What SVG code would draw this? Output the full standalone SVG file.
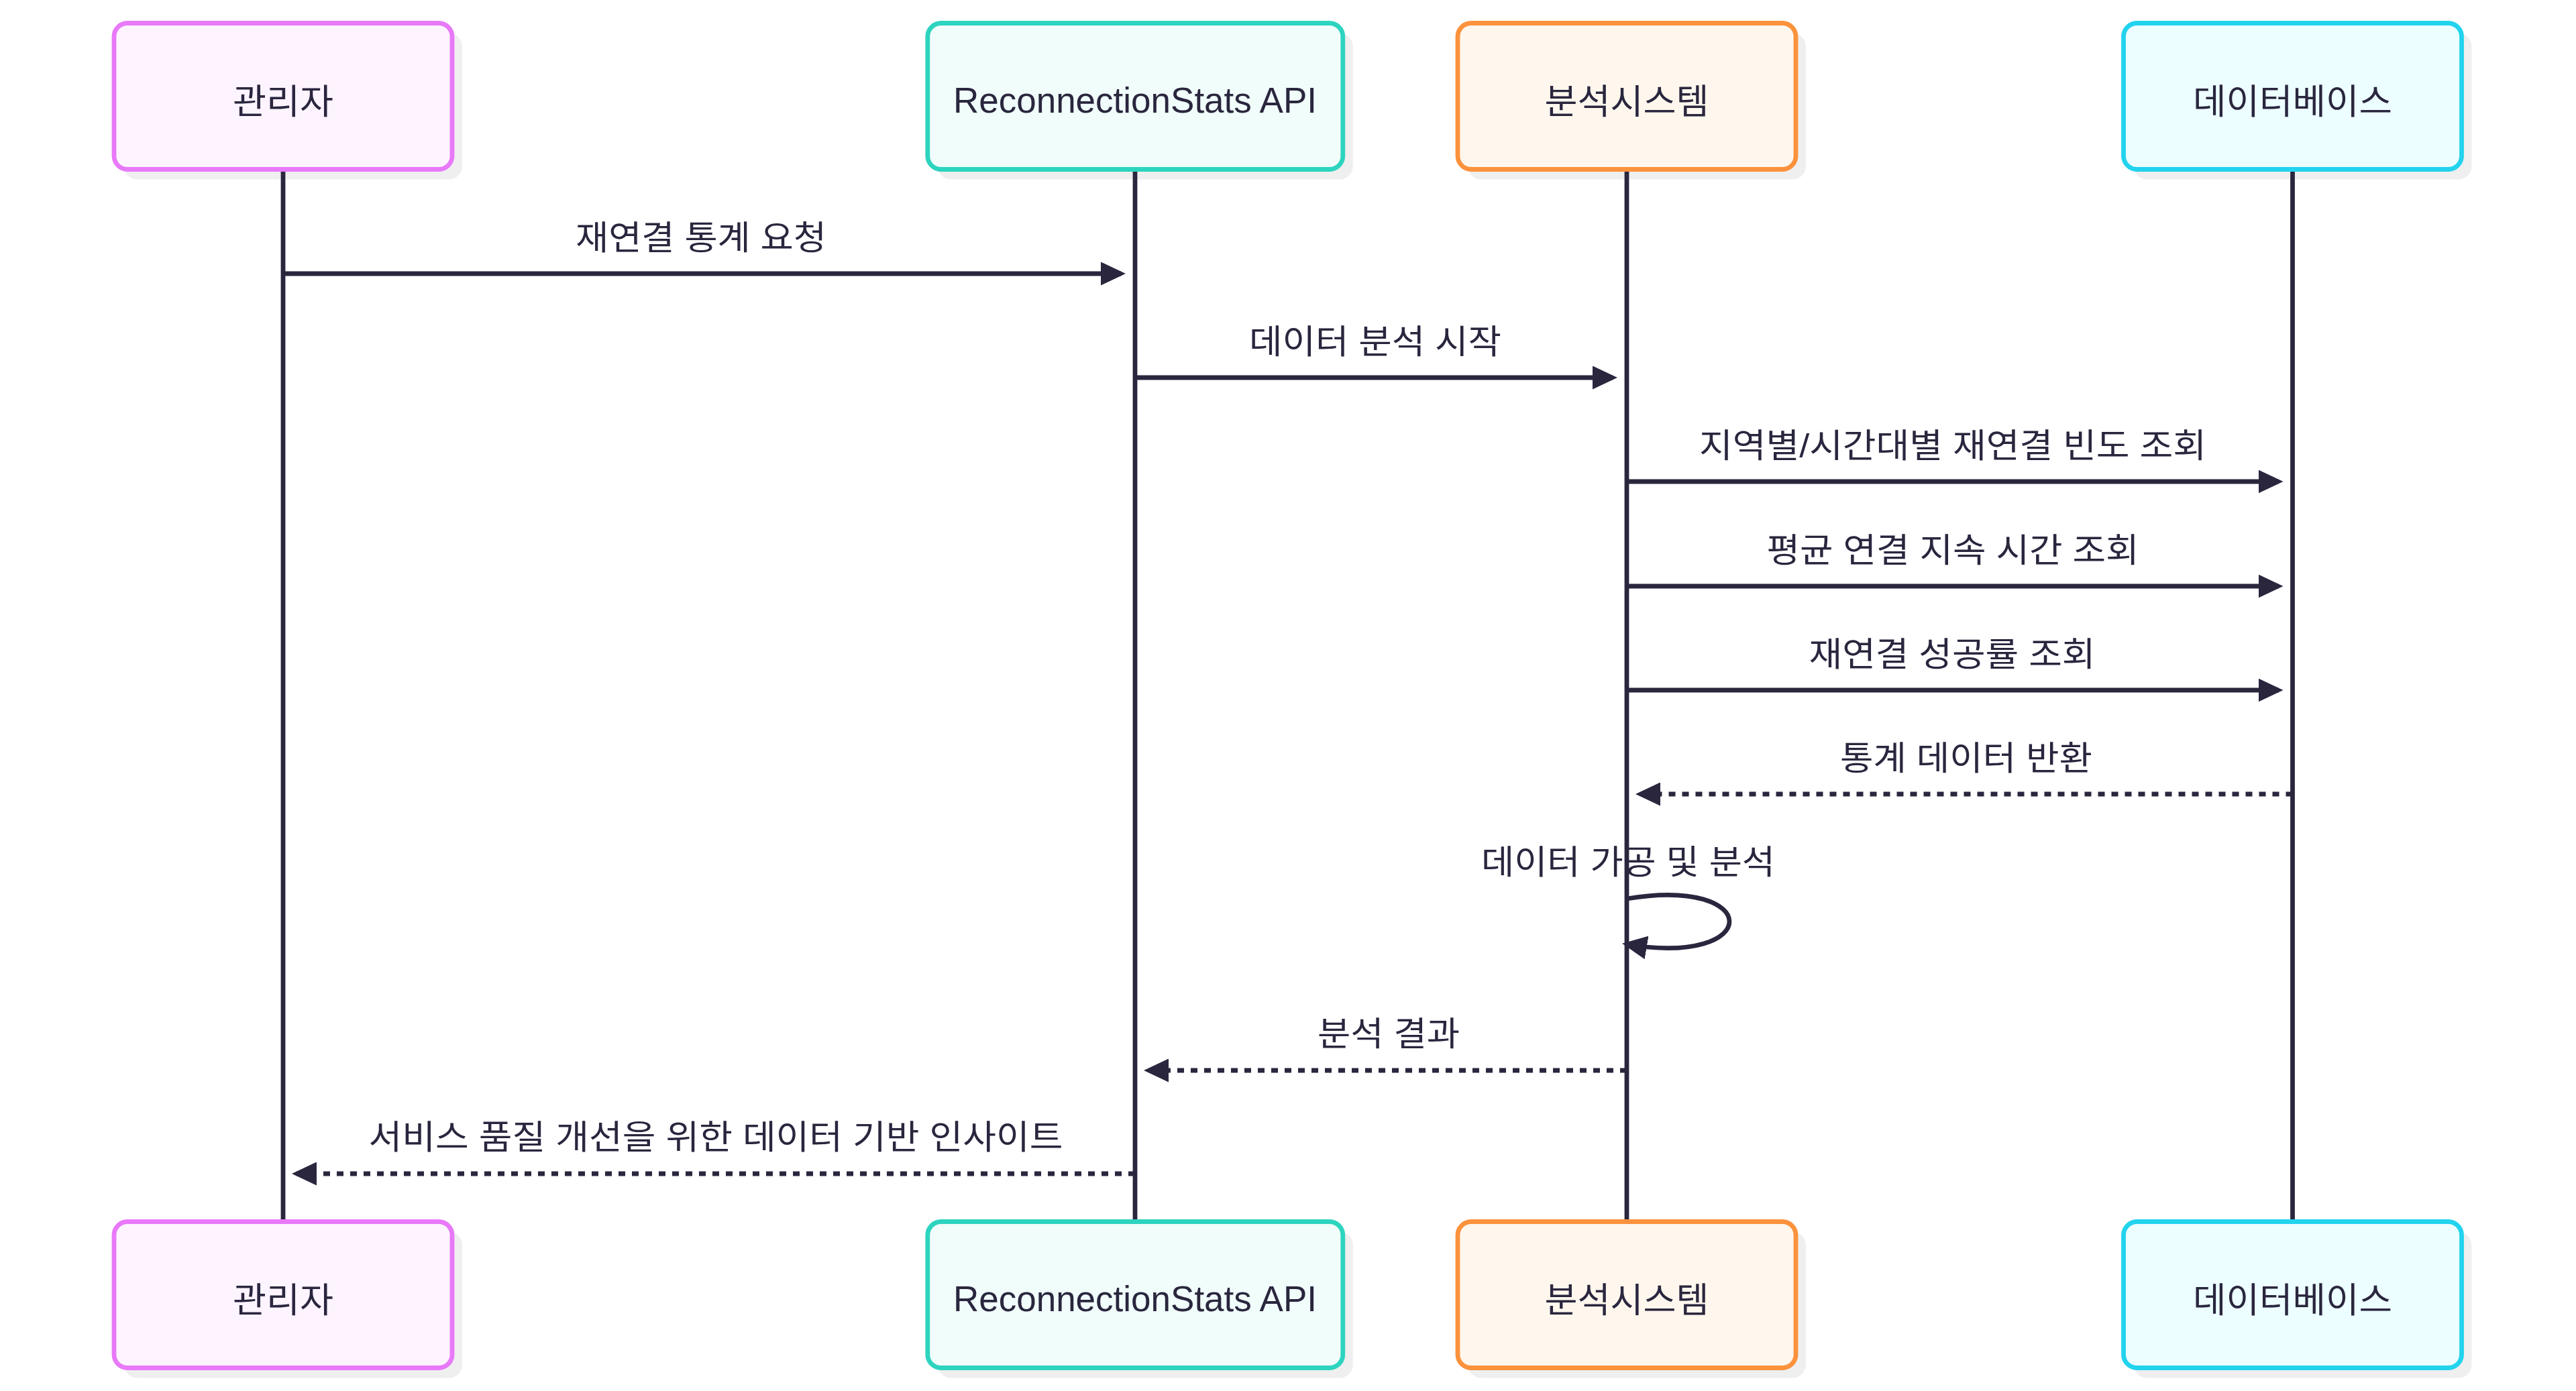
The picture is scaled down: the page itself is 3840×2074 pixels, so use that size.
<svg xmlns="http://www.w3.org/2000/svg" width="3840" height="2074" viewBox="0 0 3840 2074">
<style>
.shadow{fill:#efefef}
.box{stroke-width:6.8}
.a1{fill:#fdf4ff;stroke:#e879f9}
.a2{fill:#f0fdfa;stroke:#2dd4bf}
.a3{fill:#fff7ed;stroke:#fb923c}
.a4{fill:#ecfeff;stroke:#22d3ee}
.atext{font-family:"Liberation Sans","Noto Sans CJK KR",sans-serif;font-size:52px;fill:#2a263e;text-anchor:middle}
.latin{font-size:53px}
.life{stroke:#2a263e;stroke-width:6.8;fill:none}
.msg{stroke:#2a263e;stroke-width:6.8;fill:none}
.dash{stroke-dasharray:10 10}
.mtext{font-family:"Liberation Sans","Noto Sans CJK KR",sans-serif;font-size:50px;fill:#2a263e;text-anchor:middle}
</style>
<defs>
<marker id="arrow" markerUnits="userSpaceOnUse" markerWidth="37" markerHeight="35" viewBox="0 0 37 35" refX="30" refY="17.5" orient="auto">
<path d="M0,0 L37,17.5 L0,35 z" fill="#2a263e"/>
</marker>
</defs>
<rect width="3840" height="2074" fill="#ffffff"/>

<g id="actor-admin-top">
<rect class="shadow" x="185" y="49.5" width="504" height="218" rx="20"/>
<rect class="box a1" x="170" y="34.5" width="504" height="218" rx="20"/>
<text class="atext" x="422" y="169.5" textLength="150" lengthAdjust="spacingAndGlyphs">관리자</text>
</g>
<g id="actor-api-top">
<rect class="shadow" x="1397.8" y="49.5" width="619" height="218" rx="20"/>
<rect class="box a2" x="1382.8" y="34.5" width="619" height="218" rx="20"/>
<text class="atext latin" x="1692" y="168">ReconnectionStats API</text>
</g>
<g id="actor-analysis-top">
<rect class="shadow" x="2188" y="49.5" width="504" height="218" rx="20"/>
<rect class="box a3" x="2173" y="34.5" width="504" height="218" rx="20"/>
<text class="atext" x="2425" y="169.5" textLength="245" lengthAdjust="spacingAndGlyphs">분석시스템</text>
</g>
<g id="actor-db-top">
<rect class="shadow" x="3180.5" y="49.5" width="504" height="218" rx="20"/>
<rect class="box a4" x="3165.5" y="34.5" width="504" height="218" rx="20"/>
<text class="atext" x="3417.5" y="169.5" textLength="297" lengthAdjust="spacingAndGlyphs">데이터베이스</text>
</g>

<g id="actor-admin-bottom">
<rect class="shadow" x="185" y="1836.5" width="504" height="218" rx="20"/>
<rect class="box a1" x="170" y="1821.5" width="504" height="218" rx="20"/>
<text class="atext" x="422" y="1956.5" textLength="150" lengthAdjust="spacingAndGlyphs">관리자</text>
</g>
<g id="actor-api-bottom">
<rect class="shadow" x="1397.8" y="1836.5" width="619" height="218" rx="20"/>
<rect class="box a2" x="1382.8" y="1821.5" width="619" height="218" rx="20"/>
<text class="atext latin" x="1692" y="1955">ReconnectionStats API</text>
</g>
<g id="actor-analysis-bottom">
<rect class="shadow" x="2188" y="1836.5" width="504" height="218" rx="20"/>
<rect class="box a3" x="2173" y="1821.5" width="504" height="218" rx="20"/>
<text class="atext" x="2425" y="1956.5" textLength="245" lengthAdjust="spacingAndGlyphs">분석시스템</text>
</g>
<g id="actor-db-bottom">
<rect class="shadow" x="3180.5" y="1836.5" width="504" height="218" rx="20"/>
<rect class="box a4" x="3165.5" y="1821.5" width="504" height="218" rx="20"/>
<text class="atext" x="3417.5" y="1956.5" textLength="297" lengthAdjust="spacingAndGlyphs">데이터베이스</text>
</g>

<g id="lifelines">
<line class="life" x1="422" y1="256" x2="422" y2="1818"/>
<line class="life" x1="1692" y1="256" x2="1692" y2="1818"/>
<line class="life" x1="2425" y1="256" x2="2425" y2="1818"/>
<line class="life" x1="3417.5" y1="256" x2="3417.5" y2="1818"/>
</g>

<g id="messages">
<path class="msg" d="M422,408 H1671" marker-end="url(#arrow)"/>
<text class="mtext" x="1045" y="372" textLength="374" lengthAdjust="spacingAndGlyphs">재연결 통계 요청</text>

<path class="msg" d="M1692,563 H2404" marker-end="url(#arrow)"/>
<text class="mtext" x="2050" y="527" textLength="376" lengthAdjust="spacingAndGlyphs">데이터 분석 시작</text>

<path class="msg" d="M2425,718 H3396.5" marker-end="url(#arrow)"/>
<text class="mtext" x="2911" y="682" textLength="756" lengthAdjust="spacingAndGlyphs">지역별/시간대별 재연결 빈도 조회</text>

<path class="msg" d="M2425,874 H3396.5" marker-end="url(#arrow)"/>
<text class="mtext" x="2911" y="838" textLength="555" lengthAdjust="spacingAndGlyphs">평균 연결 지속 시간 조회</text>

<path class="msg" d="M2425,1029 H3396.5" marker-end="url(#arrow)"/>
<text class="mtext" x="2910" y="993" textLength="427" lengthAdjust="spacingAndGlyphs">재연결 성공률 조회</text>

<path class="msg dash" d="M3417.5,1184 H2445" marker-end="url(#arrow)"/>
<text class="mtext" x="2931" y="1148" textLength="376" lengthAdjust="spacingAndGlyphs">통계 데이터 반환</text>

<path class="msg" d="M2425,1340 C2629,1306 2629,1442 2425,1408" marker-end="url(#arrow)"/>
<text class="mtext" x="2427" y="1303" textLength="438" lengthAdjust="spacingAndGlyphs">데이터 가공 및 분석</text>

<path class="msg dash" d="M2425,1596 H1712" marker-end="url(#arrow)"/>
<text class="mtext" x="2070" y="1559" textLength="212" lengthAdjust="spacingAndGlyphs">분석 결과</text>

<path class="msg dash" d="M1692,1750 H442" marker-end="url(#arrow)"/>
<text class="mtext" x="1067" y="1713" textLength="1035" lengthAdjust="spacingAndGlyphs">서비스 품질 개선을 위한 데이터 기반 인사이트</text>
</g>
</svg>
